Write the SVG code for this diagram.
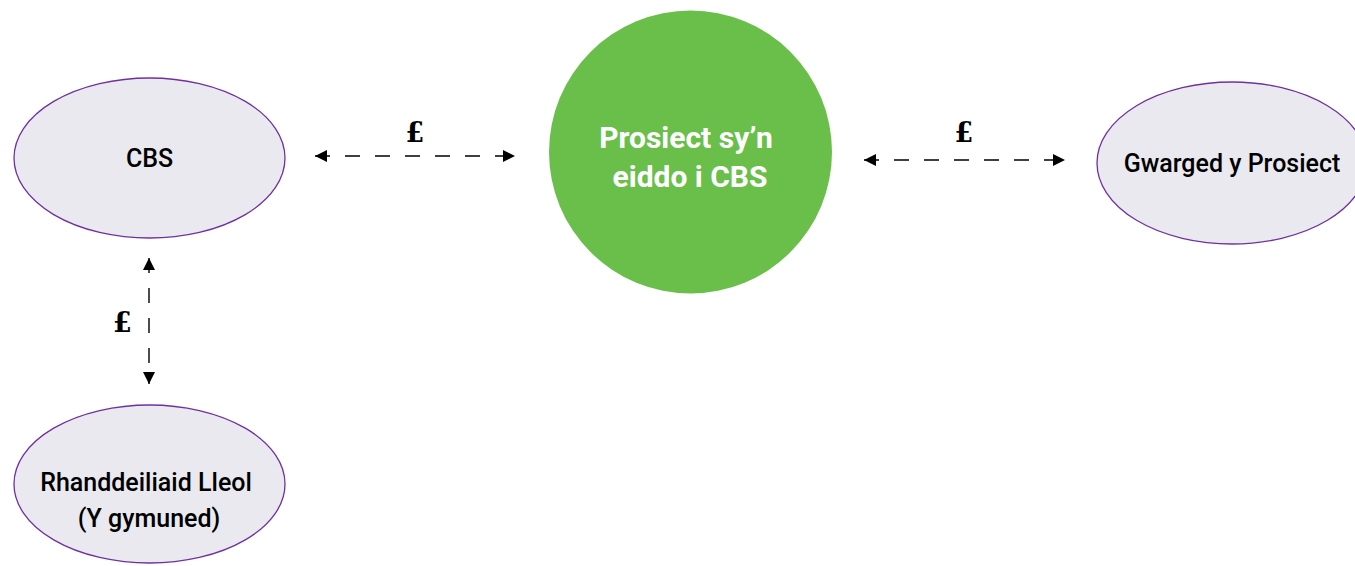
<svg xmlns="http://www.w3.org/2000/svg" width="1355" height="566" viewBox="0 0 1355 566">
<defs>
<style>
.ell{fill:#e9e9ef;stroke:#7030a0;stroke-width:1.3}
.lbl{font-family:Roboto,"Liberation Sans",Arial,sans-serif;font-size:25px;fill:#000;text-anchor:middle;font-weight:500}
.wh{font-family:Roboto,"Liberation Sans",Arial,sans-serif;font-size:30px;font-weight:bold;fill:#fff;text-anchor:middle}
.con{stroke:#000;stroke-width:1.4;stroke-dasharray:15 15;fill:none}
.pound{font-family:"DejaVu Serif",serif;font-size:27px;font-weight:bold;fill:#000;text-anchor:middle}
</style>
<marker id="ah" viewBox="0 0 12 12" refX="12" refY="6" markerWidth="12" markerHeight="12" markerUnits="userSpaceOnUse" orient="auto-start-reverse">
<path d="M0,0 L12,6 L0,12 z" fill="#000"/>
</marker>
</defs>
<rect width="1355" height="566" fill="#fff"/>
<g id="connectors">
<line class="con" x1="315" y1="156" x2="515" y2="156" marker-start="url(#ah)" marker-end="url(#ah)"/>
<text class="pound" x="415" y="142">£</text>
<line class="con" x1="864" y1="160" x2="1065" y2="160" marker-start="url(#ah)" marker-end="url(#ah)"/>
<text class="pound" x="964" y="142">£</text>
<line class="con" x1="149" y1="258" x2="149" y2="384" marker-start="url(#ah)" marker-end="url(#ah)"/>
<text class="pound" x="122.5" y="332">£</text>
</g>
<g id="cbs">
<ellipse class="ell" cx="149.5" cy="158" rx="135.5" ry="80"/>
<text class="lbl" x="149.5" y="167">CBS</text>
</g>
<g id="prosiect">
<circle cx="690.5" cy="152" r="141.5" fill="#6abf4b"/>
<text class="wh" x="686" y="148">Prosiect sy’n</text>
<text class="wh" x="690" y="187">eiddo i CBS</text>
</g>
<g id="gwarged">
<ellipse class="ell" cx="1232" cy="163" rx="135" ry="81"/>
<text class="lbl" x="1232" y="172">Gwarged y Prosiect</text>
</g>
<g id="rhanddeiliaid">
<ellipse class="ell" cx="149.5" cy="484" rx="135.5" ry="79"/>
<text class="lbl" x="146" y="491">Rhanddeiliaid Lleol</text>
<text class="lbl" x="149" y="527">(Y gymuned)</text>
</g>
</svg>
